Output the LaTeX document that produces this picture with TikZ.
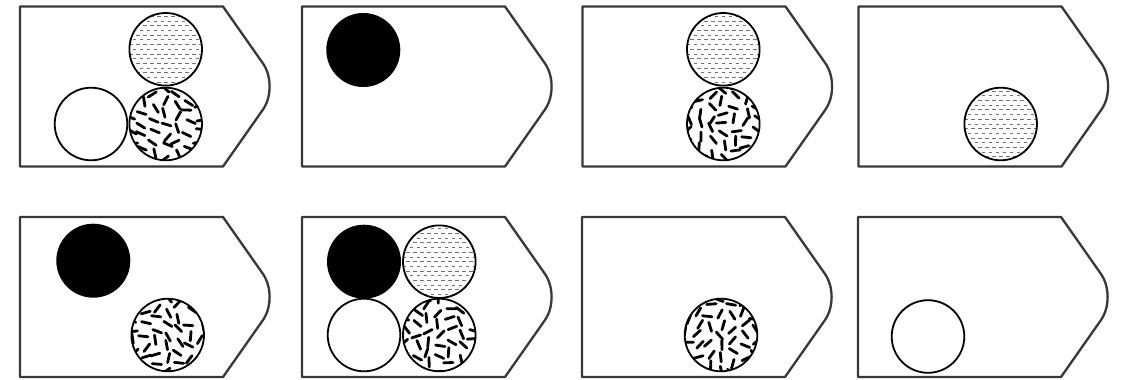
\documentclass[tikz,border=0pt]{standalone}
\usetikzlibrary{calc}
\tikzset{
  panelline/.style={draw=black!78, line width=2.3pt, line join=round},
  ballline/.style={draw=black, line width=1.8pt},
  dashrow/.style={draw=black!55, line width=1pt, dash pattern=on 3.6pt off 3.4pt},
  speckdash/.style={draw=black, line width=2.8pt, line cap=round},
}
\newcommand{\TagPanel}[2]{%
  \draw[panelline] (#1,#2) -- ({#1+203},#2) -- ({#1+243},{#2+57})
    .. controls ({#1+251.8},{#2+69.7}) and ({#1+251.8},{#2+90.3}) .. ({#1+243},{#2+103})
    -- ({#1+203},{#2+160}) -- (#1,{#2+160}) -- cycle;}
\newcommand{\BlackBall}[2]{\fill[black] (#1,#2) circle[radius=37pt];}
\newcommand{\WhiteBall}[2]{\draw[ballline] (#1,#2) circle[radius=36.3pt];}
\newcommand{\DotBall}[2]{%
  \begin{scope}
    \clip (#1,#2) circle[radius=36.3pt];
    \foreach \j in {-8,...,8} {
      \pgfmathsetmacro\yy{#2+\j*4.7}
      \pgfmathsetmacro\ph{mod(abs(\j),2)*3.5}
      \draw[dashrow, dash phase=\ph pt] ({#1-40},\yy) -- ({#1+40},\yy);
    }
  \end{scope}
  \draw[ballline] (#1,#2) circle[radius=36.3pt];}
\newcommand{\SpeckBall}[3]{%
  \begin{scope}
    \clip (#1,#2) circle[radius=36.3pt];
    \pgfmathsetseed{#3}
    \foreach \ix in {-3,...,3} {
      \foreach \iy in {-4,...,3} {
        \pgfmathsetmacro\sx{#1+\ix*11.5+2.5*rand}
        \pgfmathsetmacro\sy{#2+\iy*11.5+mod(abs(\ix),2)*5.75+2.5*rand}
        \pgfmathsetmacro\sa{90*rand}
        \pgfmathsetmacro\sb{\sa+180}
        \draw[speckdash] (\sx,\sy) ++(\sa:4.7) -- ++(\sb:9.4);
      }
    }
  \end{scope}
  \draw[ballline] (#1,#2) circle[radius=36.3pt];}
\begin{document}
\begin{tikzpicture}[x=1pt,y=-1pt]
  \useasboundingbox (0,0) rectangle (1122,380);
  \fill[white] (0,0) rectangle (1122,380);
  % top row
  \TagPanel{20}{6.5}
  \TagPanel{302}{6.5}
  \TagPanel{582.5}{6.5}
  \TagPanel{858.5}{6.5}
  % bottom row
  \TagPanel{20}{217}
  \TagPanel{302}{217}
  \TagPanel{582}{217}
  \TagPanel{858}{217}
  % panel 1 top
  \DotBall{165.7}{49.3}
  \SpeckBall{165.7}{124}{11}
  \WhiteBall{91}{124}
  % panel 2 top
  \BlackBall{363.3}{50}
  % panel 3 top
  \DotBall{723.3}{49.3}
  \SpeckBall{723.3}{124}{23}
  % panel 4 top
  \DotBall{1000.7}{124}
  % panel 1 bottom
  \BlackBall{93.3}{260.7}
  \SpeckBall{167.7}{335}{37}
  % panel 2 bottom
  \BlackBall{364}{261.7}
  \DotBall{439.3}{261.7}
  \WhiteBall{364}{335}
  \SpeckBall{439.3}{335}{41}
  % panel 3 bottom
  \SpeckBall{721}{335}{53}
  % panel 4 bottom
  \WhiteBall{928}{336.5}
\end{tikzpicture}
\end{document}
